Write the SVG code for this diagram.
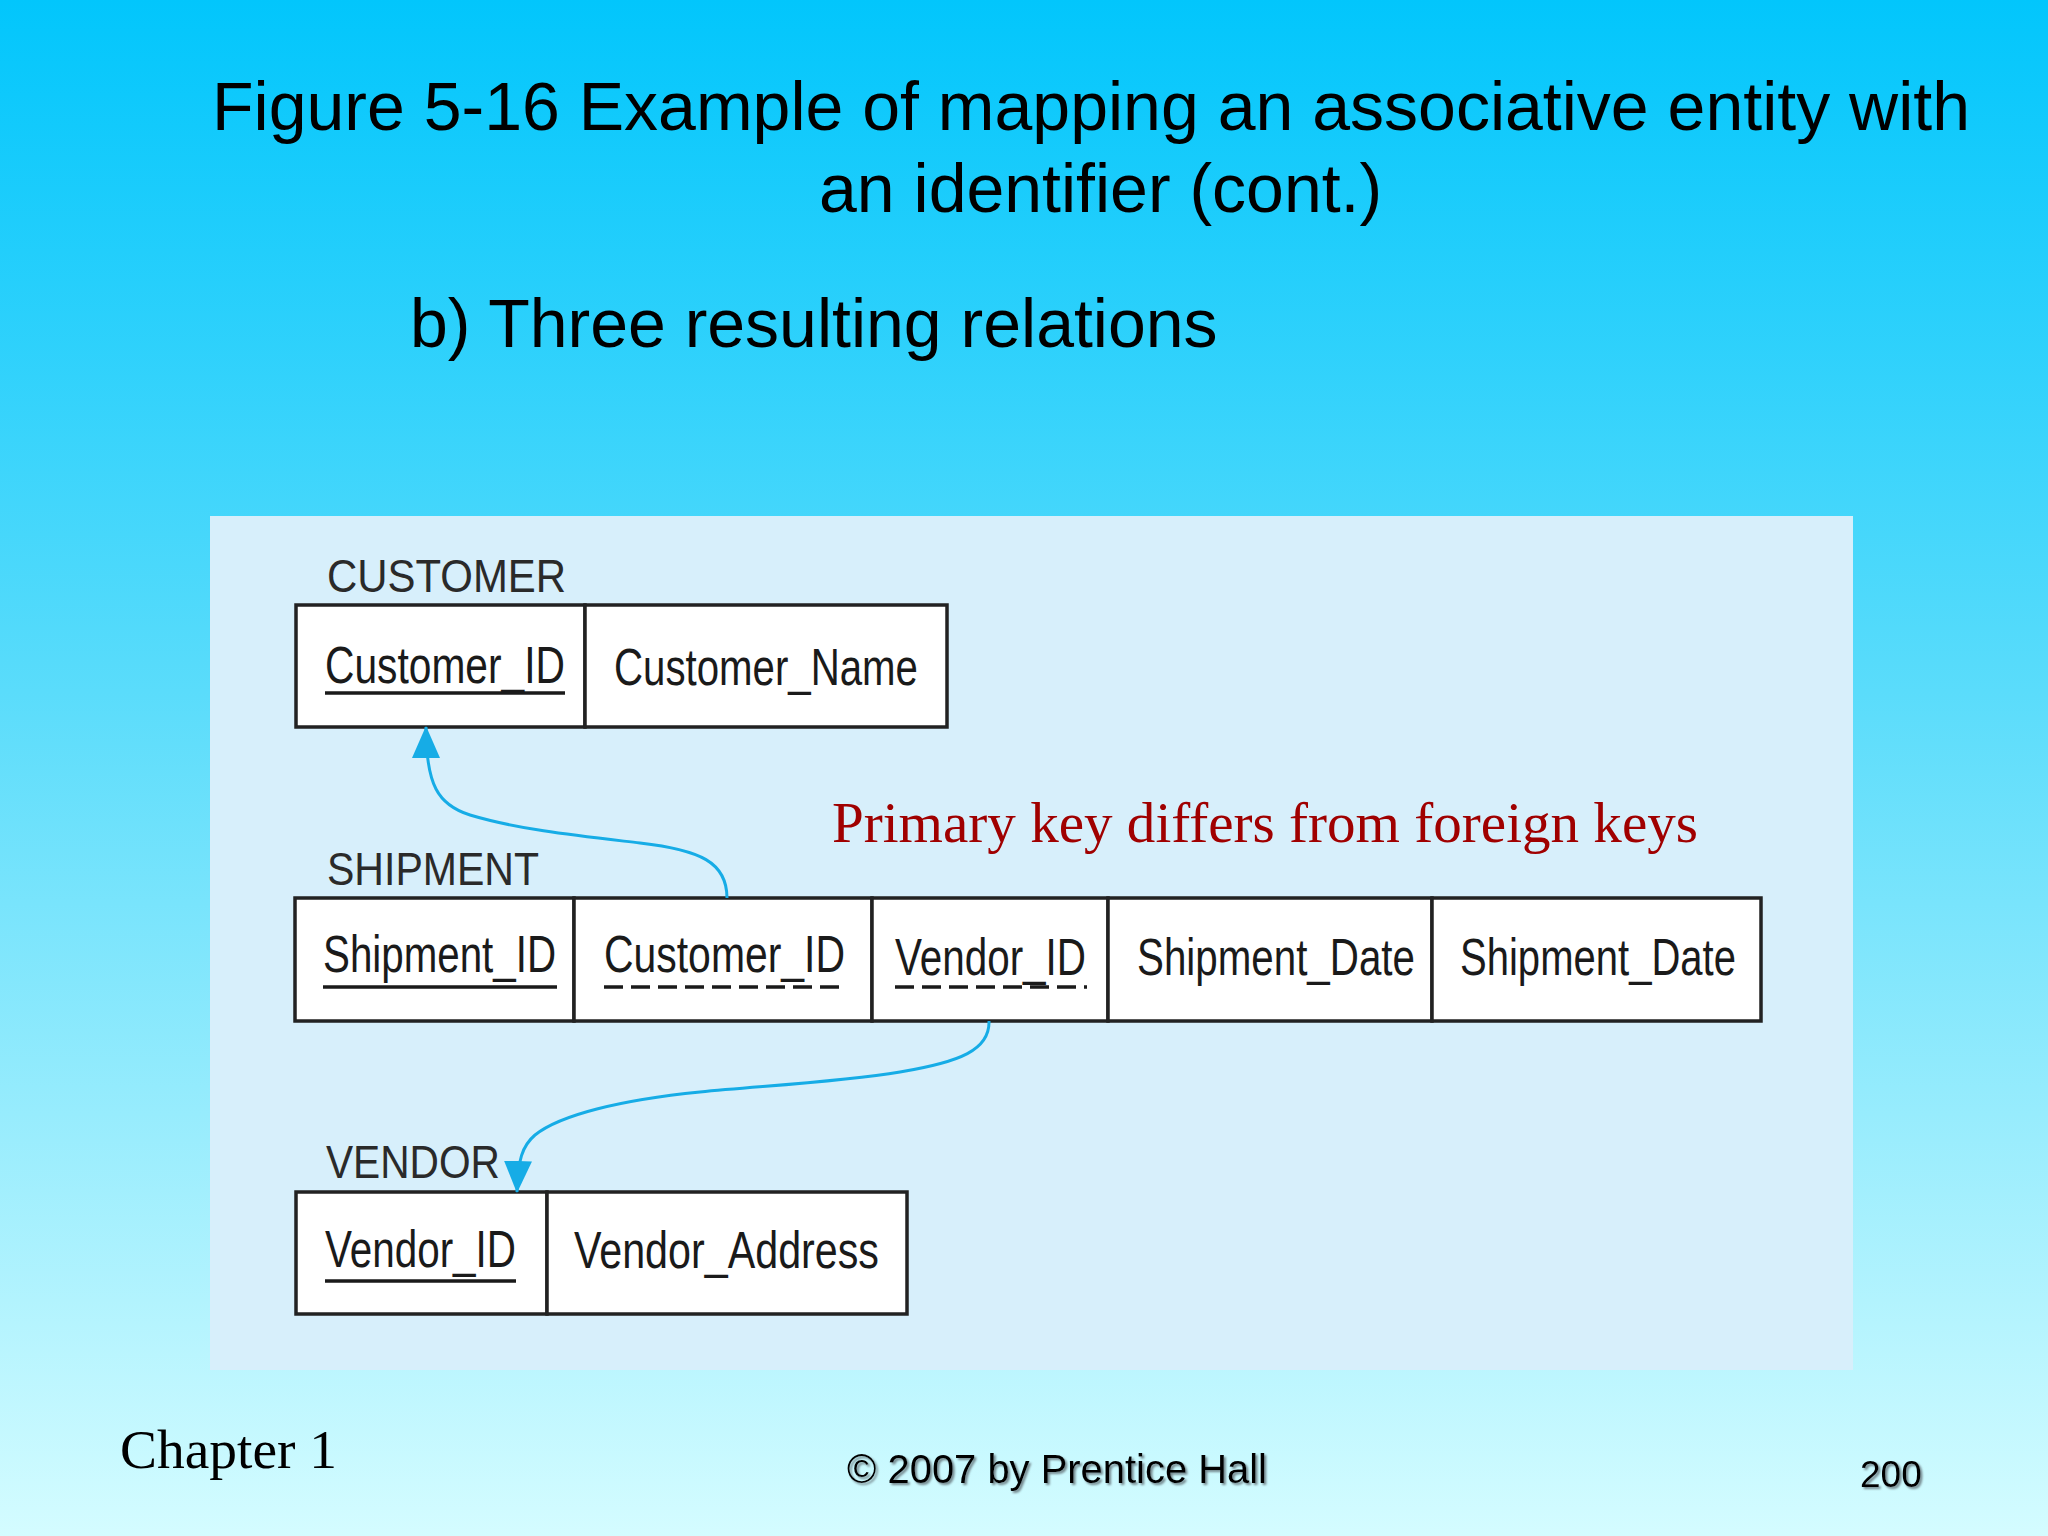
<svg xmlns="http://www.w3.org/2000/svg" width="2048" height="1536" viewBox="0 0 2048 1536">
  <defs>
    <linearGradient id="bg" x1="0" y1="0" x2="0" y2="1">
      <stop offset="0" stop-color="#02C6FC"/>
      <stop offset="0.45" stop-color="#5ADCFB"/>
      <stop offset="1" stop-color="#D4FCFF"/>
    </linearGradient>
    <filter id="shadow" x="-5%" y="-20%" width="110%" height="150%">
      <feDropShadow dx="2" dy="2" stdDeviation="0.8" flood-color="#6a7a80" flood-opacity="0.9"/>
    </filter>
    <marker id="arrow" viewBox="0 0 32 28" refX="31" refY="14" markerWidth="32" markerHeight="28" markerUnits="userSpaceOnUse" orient="auto">
      <path d="M0,0 L32,14 L0,28 z" fill="#16ACE6"/>
    </marker>
    <style>
      .title { font-family: "Liberation Sans", Arial, sans-serif; font-size: 68px; fill: #000; }
      .cell { fill: #fff; stroke: #222; stroke-width: 3.5; }
      .attr { font-family: "Liberation Sans", Arial, sans-serif; font-size: 52px; fill: #1a1a1a; }
      .label { font-family: "Liberation Sans", Arial, sans-serif; font-size: 47px; fill: #2a2a2a; }
      .pk { stroke: #1a1a1a; stroke-width: 3.5; fill: none; }
      .fk { stroke: #1a1a1a; stroke-width: 3.5; fill: none; stroke-dasharray: 19 8; }
      .conn { stroke: #16ACE6; stroke-width: 3; fill: none; marker-end: url(#arrow); }
      .note { font-family: "Liberation Serif", "Times New Roman", serif; font-size: 57px; fill: #A00000; }
      .foot { font-family: "Liberation Sans", Arial, sans-serif; fill: #000; filter: url(#shadow); }
    </style>
  </defs>

  <rect x="0" y="0" width="2048" height="1536" fill="url(#bg)"/>

  <g id="title">
    <text class="title" x="212" y="130" textLength="1758" lengthAdjust="spacingAndGlyphs">Figure 5-16 Example of mapping an associative entity with</text>
    <text class="title" x="819" y="212">an identifier (cont.)</text>
    <text class="title" x="410" y="347">b) Three resulting relations</text>
  </g>

  <rect id="panel" x="210" y="516" width="1643" height="854" fill="#D7EFFB"/>

  <g id="customer">
    <text class="label" x="327" y="592" textLength="239" lengthAdjust="spacingAndGlyphs">CUSTOMER</text>
    <rect class="cell" x="296" y="605" width="289" height="122"/>
    <rect class="cell" x="585" y="605" width="362" height="122"/>
    <text class="attr" x="325" y="683" textLength="240" lengthAdjust="spacingAndGlyphs">Customer_ID</text>
    <line class="pk" x1="325" y1="693" x2="565" y2="693"/>
    <text class="attr" x="614" y="685" textLength="304" lengthAdjust="spacingAndGlyphs">Customer_Name</text>
  </g>

  <g id="shipment">
    <text class="label" x="327" y="885" textLength="212" lengthAdjust="spacingAndGlyphs">SHIPMENT</text>
    <rect class="cell" x="295" y="898" width="279" height="123"/>
    <rect class="cell" x="574" y="898" width="298" height="123"/>
    <rect class="cell" x="872" y="898" width="236" height="123"/>
    <rect class="cell" x="1108" y="898" width="324" height="123"/>
    <rect class="cell" x="1432" y="898" width="329" height="123"/>
    <text class="attr" x="323" y="972" textLength="233" lengthAdjust="spacingAndGlyphs">Shipment_ID</text>
    <line class="pk" x1="323" y1="987" x2="557" y2="987"/>
    <text class="attr" x="604" y="972" textLength="241" lengthAdjust="spacingAndGlyphs">Customer_ID</text>
    <line class="fk" x1="604" y1="987" x2="847" y2="987"/>
    <text class="attr" x="895" y="975" textLength="191" lengthAdjust="spacingAndGlyphs">Vendor_ID</text>
    <line class="fk" x1="895" y1="987" x2="1087" y2="987"/>
    <text class="attr" x="1137" y="975" textLength="278" lengthAdjust="spacingAndGlyphs">Shipment_Date</text>
    <text class="attr" x="1460" y="975" textLength="276" lengthAdjust="spacingAndGlyphs">Shipment_Date</text>
  </g>

  <g id="vendor">
    <text class="label" x="326" y="1178" textLength="174" lengthAdjust="spacingAndGlyphs">VENDOR</text>
    <rect class="cell" x="296" y="1192" width="251" height="122"/>
    <rect class="cell" x="547" y="1192" width="360" height="122"/>
    <text class="attr" x="325" y="1267" textLength="191" lengthAdjust="spacingAndGlyphs">Vendor_ID</text>
    <line class="pk" x1="325" y1="1281" x2="516" y2="1281"/>
    <text class="attr" x="574" y="1268" textLength="305" lengthAdjust="spacingAndGlyphs">Vendor_Address</text>
  </g>

  <g id="connectors">
    <path class="conn" d="M727,898 C727,862 700,850 640,843 C580,836 520,830 470,815 C438,805 426,785 426,727"/>
    <path class="conn" d="M989,1021 C990,1050 960,1062 900,1072 C840,1082 760,1086 700,1092 C620,1100 560,1115 535,1135 C522,1146 518,1160 517,1192"/>
  </g>

  <text id="note" class="note" x="832" y="842" textLength="866" lengthAdjust="spacingAndGlyphs">Primary key differs from foreign keys</text>

  <g id="footer">
    <text x="120" y="1468" font-family="'Liberation Serif', 'Times New Roman', serif" font-size="55" fill="#000" textLength="217" lengthAdjust="spacingAndGlyphs">Chapter 1</text>
    <text class="foot" x="847" y="1483" font-size="40" textLength="420" lengthAdjust="spacingAndGlyphs">© 2007 by Prentice Hall</text>
    <text class="foot" x="1860" y="1487" font-size="37">200</text>
  </g>
</svg>
